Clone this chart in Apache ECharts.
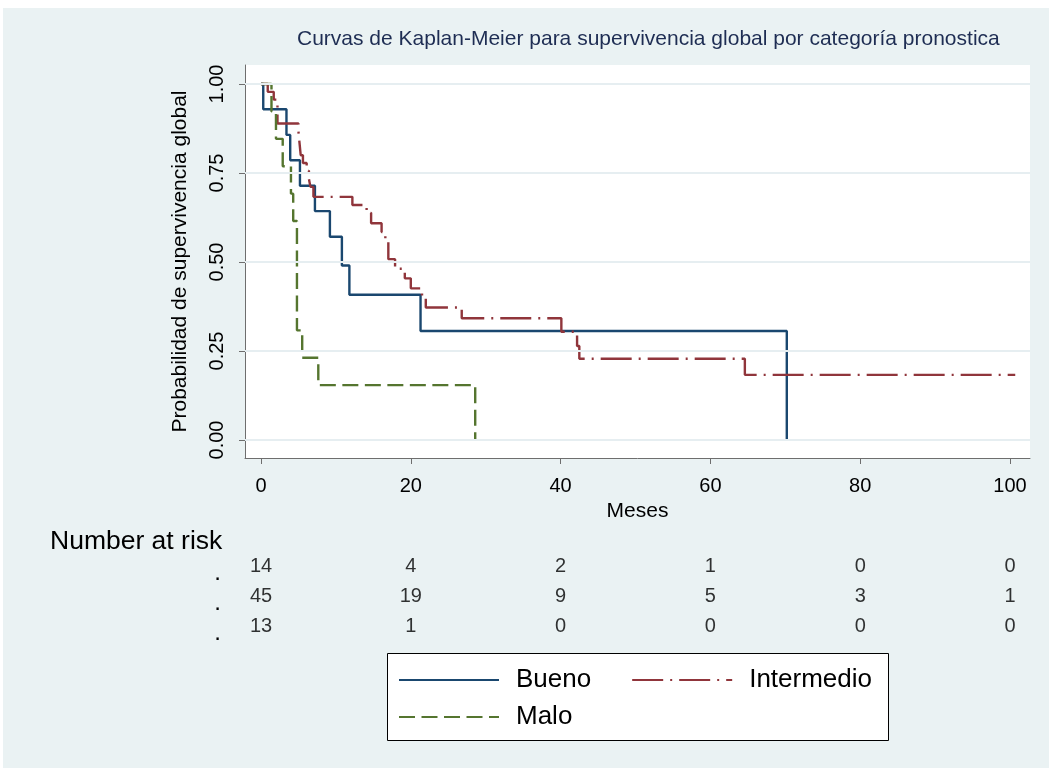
<!DOCTYPE html>
<html><head><meta charset="utf-8">
<script src="https://cdn.jsdelivr.net/npm/echarts@6/dist/echarts.min.js"></script>
<style>html,body{margin:0;padding:0;background:#fff}#c{width:1053px;height:772px}</style>
</head><body><div id="c"></div>
<script>
const titleText = 'Curvas de Kaplan-Meier para supervivencia global por categoría pronostica';
const xAxisTitle = 'Meses';
const yAxisTitle = 'Probabilidad de supervivencia global';
const riskTitle = 'Number at risk';
const groupNames = ['Bueno', 'Intermedio', 'Malo'];
// Kaplan-Meier steps: [month, survival after the step]
const buenoCurve = [[0,1],[0.3,0.929],[3.4,0.857],[3.9,0.786],[5.2,0.714],[7.2,0.643],[9.2,0.571],[10.8,0.490],[11.8,0.408],[21.3,0.306],[70.2,0]];
const intermedioCurve = [[0,1],[0.9,0.978],[1.7,0.956],[2.2,0.889],[5.0,0.867],[5.1,0.844],[5.2,0.822],[5.3,0.800],[5.6,0.778],[6.1,0.756],[6.4,0.733],[6.6,0.711],[7.0,0.683],[12.2,0.660],[14.1,0.638],[14.7,0.609],[16.1,0.584],[16.6,0.559],[17.0,0.508],[17.9,0.481],[19.2,0.454],[20.0,0.426],[21.5,0.403],[22.0,0.372],[26.8,0.342],[40.1,0.304],[42.2,0.264],[42.5,0.228],[64.6,0.183],[100.7,0.183]];
const maloCurve = [[0,1],[1.4,0.923],[2.0,0.846],[2.9,0.769],[4.0,0.692],[4.3,0.615],[4.8,0.308],[5.5,0.231],[7.65,0.154],[28.6,0]];
// number at risk table
const riskTimes = [0, 20, 40, 60, 80, 100];
const riskBueno = [14, 4, 2, 1, 0, 0];
const riskIntermedio = [45, 19, 9, 5, 3, 1];
const riskMalo = [13, 1, 0, 0, 0, 0];
// axis ticks
const xTicks = [0, 20, 40, 60, 80, 100];
const yTicks = [0, 0.25, 0.5, 0.75, 1];

const colors = { Bueno: '#1a476f', Intermedio: '#90353b', Malo: '#55752f' };
const font = '"Liberation Sans", Arial, sans-serif';
const XMIN = -2.136, XMAX = 102.67, YMIN = -0.0506, YMAX = 1.0534;
const axisGray = '#6e6e6e';

const curves = { Bueno: buenoCurve, Intermedio: intermedioCurve, Malo: maloCurve };
const dashes = { Bueno: 'solid', Intermedio: [31, 7, 2, 7], Malo: [16, 6.5] };
const risks = { Bueno: riskBueno, Intermedio: riskIntermedio, Malo: riskMalo };

const series = [];
series.push({
  type: 'line', data: [], xAxisIndex: 0, yAxisIndex: 0, z: 1, silent: true,
  markLine: { silent: true, symbol: 'none', label: { show: false }, animation: false,
    lineStyle: { color: '#e6eef1', width: 2, type: 'solid' },
    data: yTicks.map(v => ({ yAxis: v })) }
});
groupNames.forEach(g => {
  series.push({
    name: g, type: 'line', step: 'end', data: curves[g], xAxisIndex: 0, yAxisIndex: 0,
    showSymbol: false, symbol: 'none', z: 3,
    lineStyle: { color: colors[g], width: 2.4, type: dashes[g] },
    itemStyle: { color: colors[g] }
  });
});
groupNames.forEach(g => {
  series.push({
    name: 'risk_' + g, type: 'scatter', xAxisIndex: 1, yAxisIndex: 1,
    symbolSize: 1, itemStyle: { color: 'rgba(0,0,0,0)' }, silent: true,
    data: riskTimes.map((t, i) => [t, g, risks[g][i]]),
    label: { show: true, position: 'inside', formatter: p => String(p.value[2]),
      fontSize: 20, color: '#000', fontFamily: font }
  });
});

const legendCommon = {
  padding: 0, itemWidth: 100, itemHeight: 14, itemGap: 40, selectedMode: false,
  itemStyle: { opacity: 0, borderWidth: 0 },
  textStyle: { fontSize: 26, color: '#000', fontFamily: font, padding: [0, 0, 0, 12] }
};

const option = {
  animation: false,
  backgroundColor: '#ffffff',
  textStyle: { fontFamily: font },
  title: { text: titleText, left: 297, top: 29, padding: 0,
    textStyle: { fontSize: 21, fontWeight: 'normal', color: '#1e2d53', fontFamily: font } },
  graphic: [
    { type: 'rect', z: -100, silent: true, shape: { x: 3, y: 8, width: 1046, height: 760 }, style: { fill: '#eaf2f3' } },
    { type: 'rect', z: 0, silent: true, shape: { x: 387.5, y: 653.5, width: 501, height: 87 }, style: { fill: '#fff', stroke: '#000', lineWidth: 1 } },
    { type: 'text', z: 5, silent: true, left: 50, top: 528, style: { text: riskTitle, fontSize: 26.5, fill: '#000', fontFamily: font } }
  ],
  grid: [
    { left: 245, top: 65, width: 785, height: 393, show: true, backgroundColor: '#ffffff', borderWidth: 0 },
    { left: 245, top: 551, width: 785, height: 91, show: false }
  ],
  xAxis: [
    { type: 'value', gridIndex: 0, min: XMIN, max: XMAX,
      name: xAxisTitle, nameLocation: 'middle', nameGap: 37,
      nameTextStyle: { fontSize: 21, color: '#000', fontFamily: font },
      axisLine: { show: true, onZero: false, lineStyle: { color: axisGray, width: 1 } },
      axisTick: { show: true, length: 6, customValues: xTicks, lineStyle: { color: axisGray } },
      axisLabel: { customValues: xTicks, fontSize: 20, color: '#000', margin: 18, fontFamily: font },
      splitLine: { show: false } },
    { type: 'value', gridIndex: 1, min: XMIN, max: XMAX, show: false }
  ],
  yAxis: [
    { type: 'value', gridIndex: 0, min: YMIN, max: YMAX,
      name: yAxisTitle, nameLocation: 'middle', nameGap: 54,
      nameTextStyle: { fontSize: 21, color: '#000', fontFamily: font },
      axisLine: { show: true, onZero: false, lineStyle: { color: axisGray, width: 1 } },
      axisTick: { show: true, length: 6, customValues: yTicks, lineStyle: { color: axisGray } },
      axisLabel: { customValues: yTicks, rotate: 90, fontSize: 20, color: '#000', margin: 18,
        fontFamily: font, formatter: v => Number(v).toFixed(2) },
      splitLine: { show: false } },
    { type: 'category', gridIndex: 1, data: groupNames, inverse: true,
      axisLine: { show: false }, axisTick: { show: false }, splitLine: { show: false },
      axisLabel: { interval: 0, formatter: () => '.', fontSize: 24, lineHeight: 14, color: '#000', margin: 24,
        verticalAlign: 'top', fontFamily: font } }
  ],
  legend: [
    Object.assign({}, legendCommon, { data: ['Bueno', 'Intermedio'], left: 398, top: 667 }),
    Object.assign({}, legendCommon, { data: ['Malo'], left: 398, top: 704 })
  ],
  series: series
};

const chart = echarts.init(document.getElementById('c'), null, { renderer: 'canvas' });
chart.setOption(option);
</script>
</body></html>
